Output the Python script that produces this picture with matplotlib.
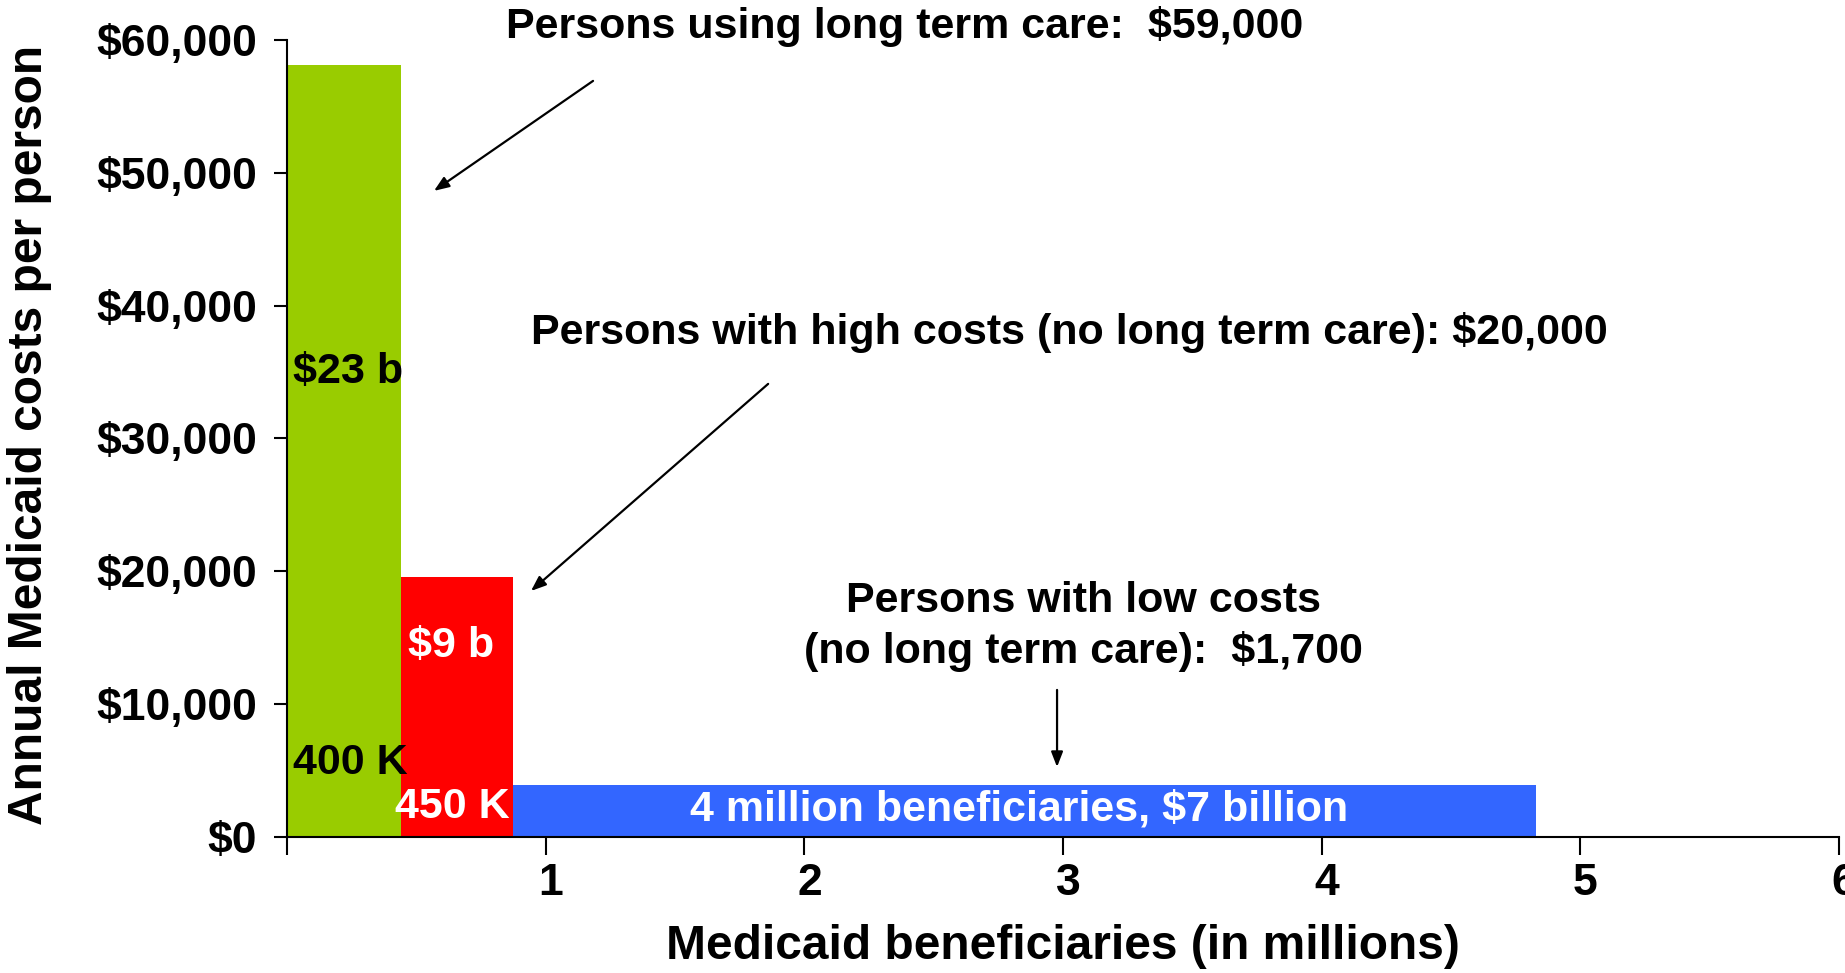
import matplotlib
matplotlib.use("Agg")
import matplotlib.pyplot as plt
from matplotlib.transforms import ScaledTranslation

# ---- data ----
groups = ["Long term care", "High costs", "Low costs"]
x_left = [0.0, 0.44, 0.875]          # millions of beneficiaries (cumulative start)
widths = [0.44, 0.435, 3.955]        # millions of beneficiaries
cost_per_person = [58100, 19600, 3950]
colors = ["#99CC00", "#FF0000", "#3366FF"]

x_ticks = [0, 1, 2, 3, 4, 5, 6]
x_tick_labels = ["", "1", "2", "3", "4", "5", "6"]
y_ticks = [0, 10000, 20000, 30000, 40000, 50000, 60000]
y_tick_labels = ["$0", "$10,000", "$20,000", "$30,000", "$40,000", "$50,000", "$60,000"]

titles = ["Persons using long term care:  $59,000",
          "Persons with high costs (no long term care): $20,000",
          "Persons with low costs\n(no long term care):  $1,700"]

plt.rcParams['font.family'] = ['Liberation Sans', 'DejaVu Sans']
plt.rcParams['font.weight'] = 'bold'

fig = plt.figure(figsize=(18.45, 9.73), dpi=100)
ax = fig.add_axes([0.1556, 0.1398, 0.9967 - 0.1556, 0.9589 - 0.1398])

ax.bar(x_left, cost_per_person, width=widths, align='edge', color=colors, linewidth=0)

ax.set_xlim(0, 6)
ax.set_ylim(0, 60000)
ax.set_xticks(x_ticks)
ax.set_xticklabels(x_tick_labels, fontsize=32, fontweight='bold')
ax.set_yticks(y_ticks)
ax.set_yticklabels(y_tick_labels, fontsize=32, fontweight='bold')
ax.tick_params(axis='x', direction='out', length=13, width=1.5, pad=6)
ax.tick_params(axis='y', direction='out', length=9.5, width=1.5, pad=12)
shift = ScaledTranslation(5 / 100, 0, fig.dpi_scale_trans)
for t in ax.xaxis.get_major_ticks():
    t.label1.set_transform(t.label1.get_transform() + shift)
ax.spines['top'].set_visible(False)
ax.spines['right'].set_visible(False)
ax.spines['left'].set_linewidth(1.5)
ax.spines['bottom'].set_linewidth(1.5)

ax.set_xlabel("Medicaid beneficiaries (in millions)", fontsize=34.5, fontweight='bold', labelpad=14)
ax.set_ylabel("Annual Medicaid costs per person", fontsize=34.5, fontweight='bold')
ax.yaxis.set_label_coords(-0.166, 0.504)
ax.yaxis.label.set_va('center')

# bar labels
ax.text(0.023, 35000, "$23 b", fontsize=31, fontweight='bold', color='black', va='center', ha='left')
ax.text(0.023, 5600, "400 K", fontsize=31, fontweight='bold', color='black', va='center', ha='left')
ax.text(0.468, 14400, "$9 b", fontsize=31, fontweight='bold', color='white', va='center', ha='left')
ax.text(0.418, 2250, "450 K", fontsize=31, fontweight='bold', color='white', va='center', ha='left')
ax.text(2.83, 2050, "4 million beneficiaries, $7 billion", fontsize=31, fontweight='bold',
        color='white', va='center', ha='center')

# annotations
ax.text(2.389, 61050, titles[0], fontsize=31, fontweight='bold', ha='center', va='center', clip_on=False)
ax.text(3.023, 38000, titles[1], fontsize=31, fontweight='bold', ha='center', va='center')
ax.text(3.08, 15850, titles[2], fontsize=31, fontweight='bold', ha='center', va='center', linespacing=1.3)

arrow = dict(arrowstyle='-|>,head_length=0.9,head_width=0.35', color='black', lw=1.6,
             shrinkA=0, shrinkB=0)
ax.annotate("", xy=(0.568, 48640), xytext=(1.183, 56920), arrowprops=arrow)
ax.annotate("", xy=(0.943, 18520), xytext=(1.86, 34110), arrowprops=arrow)
ax.annotate("", xy=(2.977, 5270), xytext=(2.977, 11070), arrowprops=arrow)

fig.savefig("out.png", dpi=100)
